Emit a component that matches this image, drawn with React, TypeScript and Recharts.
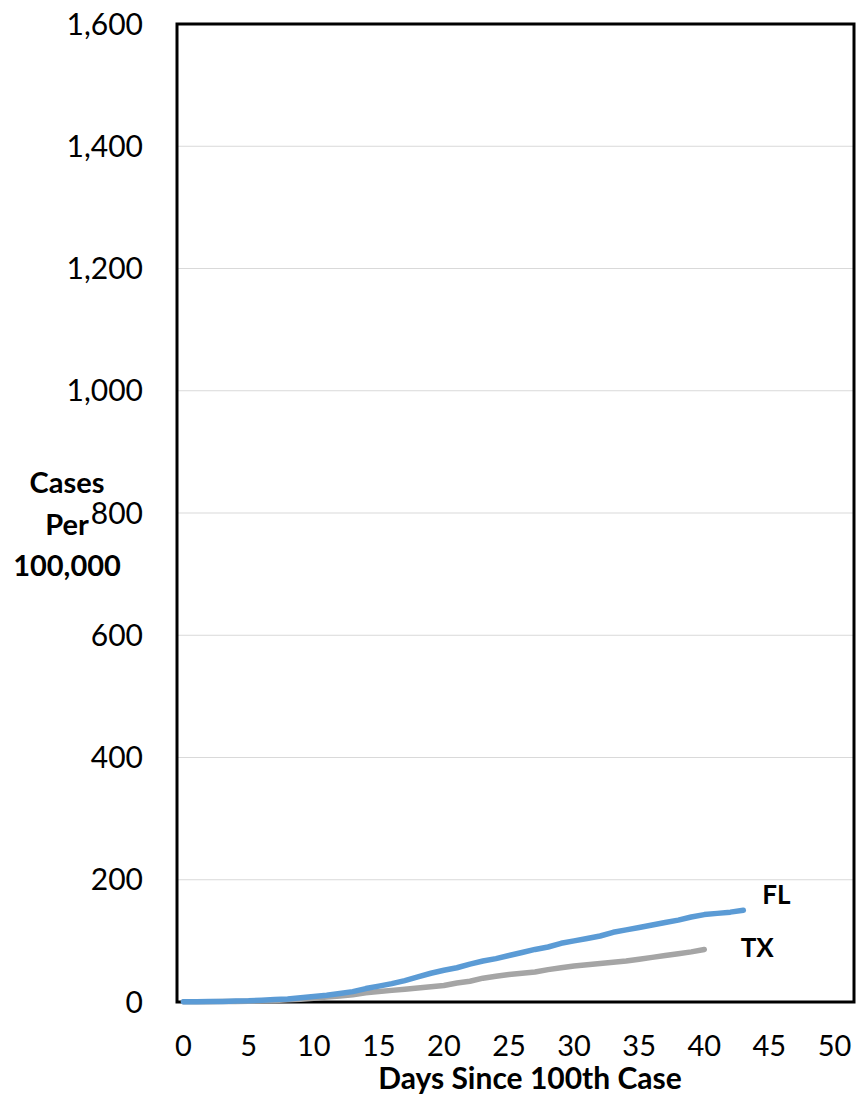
import React from "react";
import { LineChart, Line, XAxis, YAxis, CartesianGrid, ReferenceArea } from "recharts";

const days = Array.from({ length: 44 }, (_, i) => i);
const flValues = [
  0.5, 0.6, 0.8, 1, 1.5, 2, 3, 4, 5, 7, 9, 11, 14, 17, 22, 26, 30, 35, 41, 47, 52, 56, 62, 67, 71,
  76, 81, 86, 90, 96, 100, 104, 108, 114, 118, 122, 126, 130, 134, 139, 143, 145, 147, 150,
];
const txValues = [
  0.3, 0.4, 0.5, 0.7, 1, 1.3, 2, 2.5, 3.5, 4.5, 6, 8, 10, 12, 15, 17, 19, 21, 23, 25, 27, 31, 34, 39,
  42, 45, 47, 49, 53, 56, 59, 61, 63, 65, 67, 70, 73, 76, 79, 82, 86,
];
const xTicks = [0, 5, 10, 15, 20, 25, 30, 35, 40, 45, 50];
const yTicks = [0, 200, 400, 600, 800, 1000, 1200, 1400, 1600];
const seriesNames = ["FL", "TX"];
const yTitle = ["Cases", "Per", "100,000"];
const xTitle = "Days Since 100th Case";

const data = days.map((d, i) => ({
  day: d,
  fl: flValues[i],
  tx: i < txValues.length ? txValues[i] : undefined,
}));

const FONT = "Lato, 'Open Sans', sans-serif";

const endLabel = (lastIndex: number, text: string, dx: number, dy: number) => (props: any) => {
  if (props.index !== lastIndex) return <g />;
  return (
    <text
      x={props.x + dx}
      y={props.y + dy}
      textAnchor="middle"
      dominantBaseline="central"
      fontFamily={FONT}
      fontWeight={700}
      fontSize={26}
      fill="#000"
    >
      {text}
    </text>
  );
};

const fmt = (v: number) => v.toLocaleString("en-US");

export default function App() {
  return (
    <div style={{ position: "fixed", left: 0, top: 0, width: 856, height: 1097, background: "#fff" }}>
      <LineChart
        width={856}
        height={1097}
        data={data}
        margin={{ top: 24, right: 2, left: 0, bottom: 0 }}
      >
        <CartesianGrid horizontal={true} vertical={false} stroke="#d9d9d9" strokeWidth={1.2} />
        <XAxis
          dataKey="day"
          type="number"
          domain={[-0.5, 51.5]}
          ticks={xTicks}
          interval={0}
          allowDataOverflow
          axisLine={false}
          tickLine={false}
          tickSize={0}
          tickMargin={33}
          height={95}
          tick={{ fontFamily: FONT, fontSize: 29, fill: "#000" }}
          label={(props: any) => (
            <text
              x={530}
              y={1089}
              textAnchor="middle"
              fontFamily={FONT}
              fontWeight={700}
              fontSize={30}
              fill="#000"
            >
              {xTitle}
            </text>
          )}
        />
        <YAxis
          type="number"
          domain={[0, 1600]}
          ticks={yTicks}
          interval={0}
          axisLine={false}
          tickLine={false}
          tickSize={0}
          tickMargin={34}
          width={177}
          tickFormatter={fmt}
          tick={{ fontFamily: FONT, fontSize: 30, fill: "#000" }}
          label={(props: any) => (
            <text textAnchor="middle" fontFamily={FONT} fontWeight={700} fontSize={29} fill="#000">
              <tspan x={67} y={493}>{yTitle[0]}</tspan>
              <tspan x={67} y={535}>{yTitle[1]}</tspan>
              <tspan x={67} y={576}>{yTitle[2]}</tspan>
            </text>
          )}
        />
        <ReferenceArea
          x1={-0.5}
          x2={51.5}
          y1={0}
          y2={1600}
          fill="none"
          stroke="#000"
          strokeWidth={3}
          ifOverflow="visible"
        />
        <Line
          dataKey="tx"
          stroke="#a5a5a5"
          strokeWidth={5.5}
          strokeLinecap="round"
          strokeLinejoin="round"
          dot={false}
          type="linear"
          isAnimationActive={false}
          label={endLabel(txValues.length - 1, seriesNames[1], 53, -2)}
        />
        <Line
          dataKey="fl"
          stroke="#5b9bd5"
          strokeWidth={5.5}
          strokeLinecap="round"
          strokeLinejoin="round"
          dot={false}
          type="linear"
          isAnimationActive={false}
          label={endLabel(flValues.length - 1, seriesNames[0], 33, -16)}
        />
      </LineChart>
    </div>
  );
}
